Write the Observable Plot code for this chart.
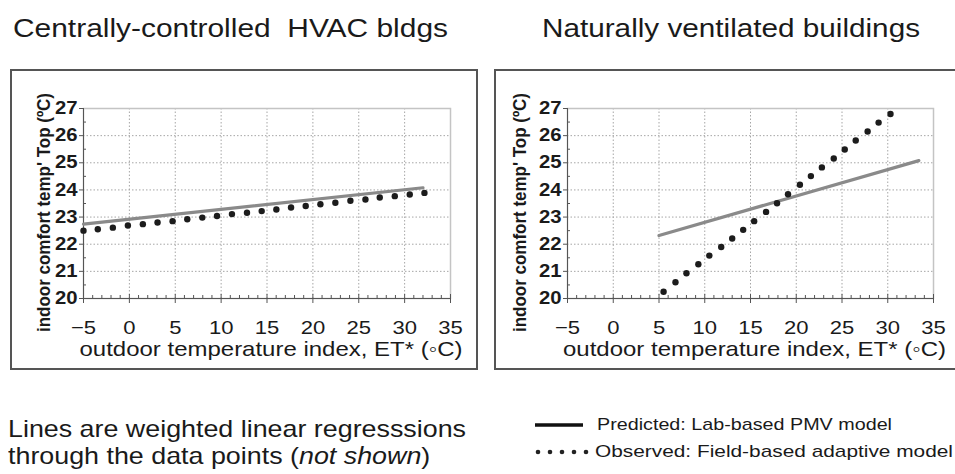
<!DOCTYPE html>
<html>
<head>
<meta charset="utf-8">
<script src="https://cdn.jsdelivr.net/npm/d3@7"></script>
<script src="https://cdn.jsdelivr.net/npm/@observablehq/plot@0.6"></script>
<style>
html,body{margin:0;padding:0;background:#fff;}
body{width:955px;height:474px;position:relative;overflow:hidden;font-family:"Liberation Sans",Arial,sans-serif;color:#1a1a1a;}
.abs{position:absolute;white-space:nowrap;transform-origin:0 0;}
.title{font-size:26px;line-height:26px;}
.panel{position:absolute;top:69px;width:468px;height:301px;box-sizing:border-box;border:2px solid #555;overflow:visible;background:#fff;}
.panel svg{display:block;}
.note{font-size:24px;line-height:27px;}
.legend{font-size:17px;line-height:17px;}
</style>
</head>
<body>
<div id="t1" class="abs title" style="left:13px;top:15px;"></div>
<div id="t2" class="abs title" style="left:542px;top:15px;"></div>
<div id="p1" class="panel" style="left:10px;"></div>
<div id="p2" class="panel" style="left:494px;"></div>
<div id="note" class="abs note" style="left:8px;top:415px;"><div>Lines are weighted linear regresssions</div><div>through the data points (<i>not shown</i>)</div></div>
<div id="lg1" class="abs legend" style="left:597px;top:416px;"></div>
<div id="lg2" class="abs legend" style="left:595px;top:443px;"></div>
<script>
// ---- data ----
const xTickLabels = [-5, 0, 5, 10, 15, 20, 25, 30, 35];
const yTickLabels = [20, 21, 22, 23, 24, 25, 26, 27];
const xGridValues = [0, 5, 10, 15, 20, 25, 30];
const yGridValues = [21, 22, 23, 24, 25, 26];
const xMinorTicks = [-4,-3,-2,-1,1,2,3,4,6,7,8,9,11,12,13,14,16,17,18,19,21,22,23,24,26,27,28,29,31,32,33,34];
const yMinorTicks = [20.5, 21.5, 22.5, 23.5, 24.5, 25.5, 26.5];

const titles = ["Centrally-controlled  HVAC bldgs", "Naturally ventilated buildings"];
const yAxisTitle = "indoor comfort temp' Top (ºC)";
const xAxisTitle = "outdoor temperature index, ET* (◦C)";
const legendLabels = ["Predicted: Lab-based PMV model", "Observed: Field-based adaptive model"];

// Centrally-controlled HVAC buildings
const hvacPredX = [-5, 32];
const hvacPredY = [22.74, 24.08];
const hvacObsX = [-5, -3.44, -1.8, -0.16, 1.47, 3.07, 4.71, 6.31, 7.95, 9.55, 11.18, 12.82, 14.42, 16.02, 17.62, 19.22, 20.82, 22.45, 24.09, 25.73, 27.29, 28.93, 30.56, 32.16];
const hvacObsY = [22.50, 22.55, 22.61, 22.69, 22.74, 22.80, 22.85, 22.92, 22.98, 23.04, 23.11, 23.16, 23.22, 23.28, 23.35, 23.41, 23.47, 23.53, 23.60, 23.65, 23.72, 23.77, 23.83, 23.89];

// Naturally ventilated buildings
const nvPredX = [5, 33.4];
const nvPredY = [22.32, 25.08];
const nvObsX = [5.5, 6.8, 8.0, 9.3, 10.5, 11.8, 13.0, 14.2, 15.4, 16.7, 17.9, 19.1, 20.4, 21.6, 22.8, 24.1, 25.3, 26.5, 27.8, 29.0, 30.3];
const nvObsY = [20.25, 20.60, 20.93, 21.26, 21.58, 21.90, 22.21, 22.53, 22.85, 23.19, 23.51, 23.84, 24.19, 24.51, 24.83, 25.16, 25.49, 25.82, 26.15, 26.48, 26.80];

// ---- drawing ----
const FONT = "'Liberation Sans', Arial, sans-serif";
const TXT = "#1a1a1a", AX = "#555";
const Y_LABEL_LEN = 239;

function drawPanel(container, o) {
  const pred = o.predX.map((x, i) => ({x, y: o.predY[i]}));
  const obs = o.obsX.map((x, i) => ({x, y: o.obsY[i]}));
  const noText = () => "";
  const svg = Plot.plot({
    width: 464, height: 297,
    marginLeft: 71, marginRight: o.marginRight, marginTop: 37, marginBottom: 70,
    x: {domain: [-5, 35]},
    y: {domain: [20, 27]},
    style: {fontFamily: FONT, color: TXT, background: "#fff", overflow: "visible"},
    marks: [
      Plot.gridX(xGridValues, {stroke: "#a6a6a6", strokeOpacity: 1, strokeDasharray: "1.5,2"}),
      Plot.gridY(yGridValues, {stroke: "#a6a6a6", strokeOpacity: 1, strokeDasharray: "1.5,2"}),
      Plot.frame({stroke: "#c4c4c4", strokeWidth: 1.5}),
      Plot.ruleX([-5], {stroke: AX}),
      Plot.ruleY([20], {stroke: AX}),
      Plot.axisY(yTickLabels, {anchor: "left", tickSize: 4, tickPadding: 2, fontSize: 17.5, fontWeight: "bold", stroke: AX, fill: TXT, label: null}),
      Plot.axisY(yMinorTicks, {anchor: "left", tickSize: 3, dx: 3, tickFormat: noText, stroke: AX, label: null}),
      Plot.axisX(xTickLabels, {anchor: "bottom", tickSize: 5, tickPadding: 17, fontSize: 19, stroke: AX, fill: TXT, label: null}),
      Plot.axisX(xTickLabels, {anchor: "bottom", tickSize: 4, dy: -4, tickFormat: noText, stroke: AX, label: null}),
      Plot.axisX(xMinorTicks, {anchor: "bottom", tickSize: 3, dy: -3, tickFormat: noText, stroke: AX, label: null}),
      Plot.line(pred, {x: "x", y: "y", stroke: "#8a8a8a", strokeWidth: 3.2}),
      Plot.dot(obs, {x: "x", y: "y", r: 3.2, fill: "#1c1c1c", stroke: "none"}),
      Plot.text([yAxisTitle], {text: d => d, frameAnchor: "left", dx: o.yLabelDx, dy: 9, rotate: -90, textAnchor: "start", fontSize: 19, fontWeight: "bold", fill: TXT, ariaDescription: "ylabel"}),
      Plot.text([xAxisTitle], {text: d => d, frameAnchor: "bottom", dx: 4, dy: 43, lineAnchor: "top", fontSize: 21, fill: TXT, ariaDescription: "xlabel"})
    ]
  });
  container.appendChild(svg);
  // horizontal stretch / condensing of the reference's lettering
  const setLen = (t, L) => { t.setAttribute("textLength", L); t.setAttribute("lengthAdjust", "spacingAndGlyphs"); };
  svg.querySelectorAll("g[aria-description='ylabel'] text").forEach(t => {
    setLen(t, Y_LABEL_LEN);
    t.setAttribute("x", -Y_LABEL_LEN / 2);
  });
  svg.querySelectorAll("g[aria-description='xlabel'] text").forEach(t => setLen(t, 383));
  svg.querySelectorAll("g[aria-label$='tick label'] text").forEach(t => {
    if (t.textContent) setLen(t, t.getComputedTextLength() * 1.16);
  });
}

drawPanel(document.getElementById("p1"), {predX: hvacPredX, predY: hvacPredY, obsX: hvacObsX, obsY: hvacObsY, marginRight: 26, yLabelDx: -40});
drawPanel(document.getElementById("p2"), {predX: nvPredX, predY: nvPredY, obsX: nvObsX, obsY: nvObsY, marginRight: 27, yLabelDx: -48});

// titles, note and legend texts
document.getElementById("t1").textContent = titles[0].replace("  ", "\u00a0 ");
document.getElementById("t2").textContent = titles[1];
document.getElementById("lg1").textContent = legendLabels[0];
document.getElementById("lg2").textContent = legendLabels[1];
function fit(id, w) {
  const el = document.getElementById(id);
  const r = el.getBoundingClientRect().width;
  el.style.transform = `scaleX(${w / r})`;
}
fit("t1", 435); fit("t2", 378); fit("note", 458); fit("lg1", 295); fit("lg2", 358);

// legend swatches
const sw = d3.select("body").append("svg")
  .attr("width", 70).attr("height", 50)
  .style("position", "absolute").style("left", "530px").style("top", "410px");
sw.append("line").attr("x1", 5).attr("x2", 53).attr("y1", 15).attr("y2", 15)
  .attr("stroke", "#111").attr("stroke-width", 3.5);
sw.selectAll("circle").data([8, 20, 32, 44, 56]).join("circle")
  .attr("cx", d => d).attr("cy", 42).attr("r", 2.3).attr("fill", "#222");
</script>
</body>
</html>
